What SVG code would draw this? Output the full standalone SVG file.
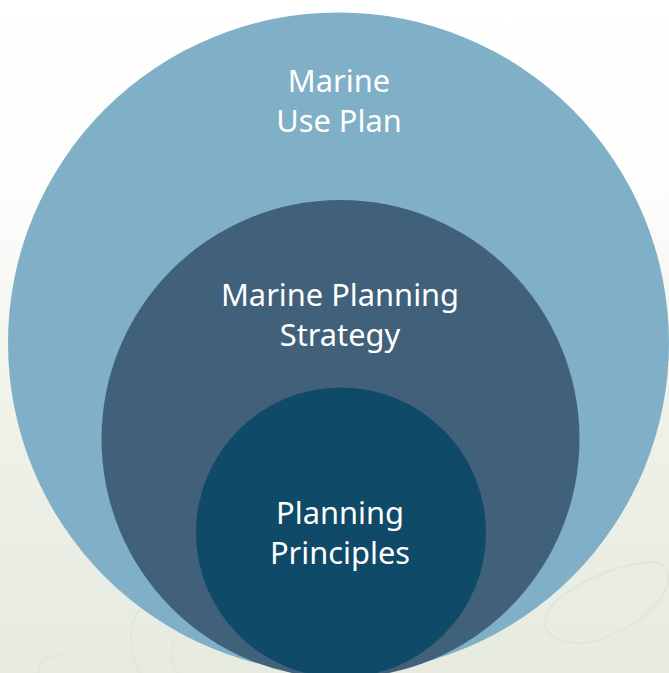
<svg xmlns="http://www.w3.org/2000/svg" width="669" height="673" viewBox="0 0 669 673">
  <defs>
    <linearGradient id="bg" x1="0" y1="0" x2="0" y2="1">
      <stop offset="0" stop-color="#ffffff"/>
      <stop offset="0.28" stop-color="#fdfdfc"/>
      <stop offset="0.6" stop-color="#f0f2ea"/>
      <stop offset="1" stop-color="#e6eadf"/>
    </linearGradient>
    <style>
      .lbl { font-family: "Noto Sans", "Open Sans", "Liberation Sans", sans-serif; font-size: 30.8px; fill: #ffffff; text-anchor: middle; }
      .swirl { fill: none; stroke: #e0e6da; stroke-width: 2; }
    </style>
  </defs>
  <rect x="0" y="0" width="669" height="673" fill="url(#bg)"/>
  <g id="background-decoration">
    <path class="swirl" d="M548 612 C 560 590, 610 565, 650 562 C 672 560, 672 585, 660 600 C 640 625, 600 645, 575 643 C 550 641, 540 628, 548 612 Z"/>
    <path class="swirl" d="M140 673 C 128 650, 128 620, 140 610"/>
    <path class="swirl" d="M178 673 C 170 660, 170 645, 176 638"/>
    <path class="swirl" d="M38 673 C 40 660, 50 654, 62 656"/>
  </g>
  <g id="marine-use-plan">
    <circle cx="338.5" cy="343" r="330.5" fill="#7fb0c8"/>
    <text class="lbl" x="339" y="92">Marine</text>
    <text class="lbl" x="339" y="132">Use Plan</text>
  </g>
  <g id="marine-planning-strategy">
    <circle cx="340.5" cy="439" r="239" fill="#41617b"/>
    <text class="lbl" x="340" y="306">Marine Planning</text>
    <text class="lbl" x="340" y="346">Strategy</text>
  </g>
  <g id="planning-principles">
    <circle cx="341" cy="532.5" r="145" fill="#0f4b68"/>
    <text class="lbl" x="340" y="524">Planning</text>
    <text class="lbl" x="340" y="564">Principles</text>
  </g>
</svg>
